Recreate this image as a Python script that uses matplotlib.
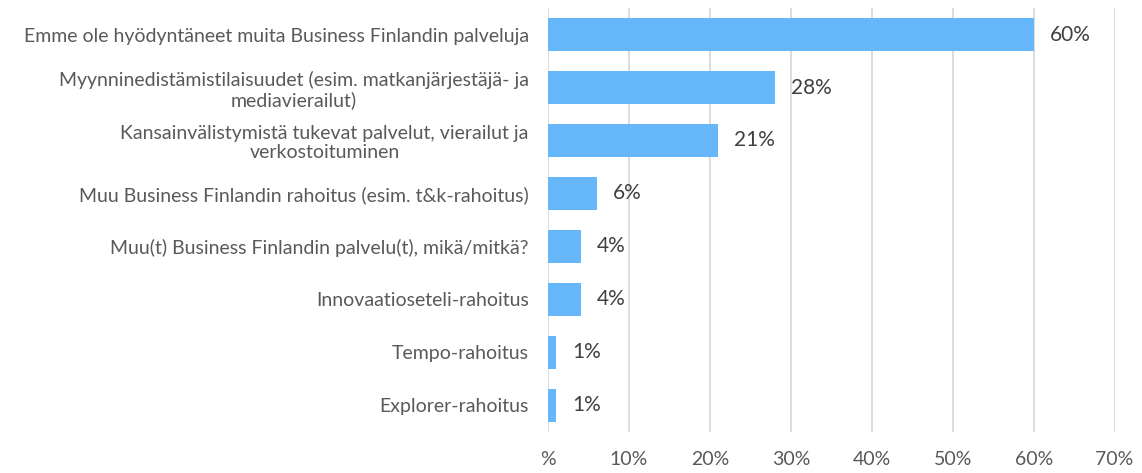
import matplotlib.pyplot as plt
from matplotlib.ticker import FixedLocator, FixedFormatter

categories = [
    "Emme ole hyödyntäneet muita Business Finlandin palveluja",
    "Myynninedistämistilaisuudet (esim. matkanjärjestäjä- ja\nmediavierailut)",
    "Kansainvälistymistä tukevat palvelut, vierailut ja\nverkostoituminen",
    "Muu Business Finlandin rahoitus (esim. t&k-rahoitus)",
    "Muu(t) Business Finlandin palvelu(t), mikä/mitkä?",
    "Innovaatioseteli-rahoitus",
    "Tempo-rahoitus",
    "Explorer-rahoitus",
]
values = [60, 28, 21, 6, 4, 4, 1, 1]
xticks = [0, 10, 20, 30, 40, 50, 60, 70]
xtick_labels = ["%", "10%", "20%", "30%", "40%", "50%", "60%", "70%"]

plt.rcParams['font.family'] = ['Lato', 'DejaVu Sans']

fig = plt.figure(figsize=(11.42, 4.73), dpi=100)
ax = fig.add_axes([0.48, 0.087, 0.496, 0.896])

pos = list(range(len(categories)))
ax.barh(pos, values, height=0.62, color='#66b6fa', zorder=3)
for y, v in zip(pos, values):
    ax.text(v + 2.0, y, "{}%".format(v), va='center', ha='left',
            fontsize=15, color='#404040')

ax.set_xlim(0, 70)
ax.set_ylim(len(categories) - 0.5, -0.5)
ax.set_yticks(pos)
ax.set_yticklabels(categories, fontsize=14, color='#595959')
for lab in ax.get_yticklabels():
    lab.set_multialignment('center')
    lab.set_linespacing(1.15)
ax.xaxis.set_major_locator(FixedLocator(xticks))
ax.xaxis.set_major_formatter(FixedFormatter(xtick_labels))
ax.tick_params(axis='x', length=0, pad=14, labelsize=14, labelcolor='#595959')
ax.tick_params(axis='y', length=0, pad=14)
ax.grid(axis='x', color='#d9d9d9', linewidth=1.3, zorder=0)
for s in ax.spines.values():
    s.set_visible(False)

fig.savefig('out.png', dpi=100)
